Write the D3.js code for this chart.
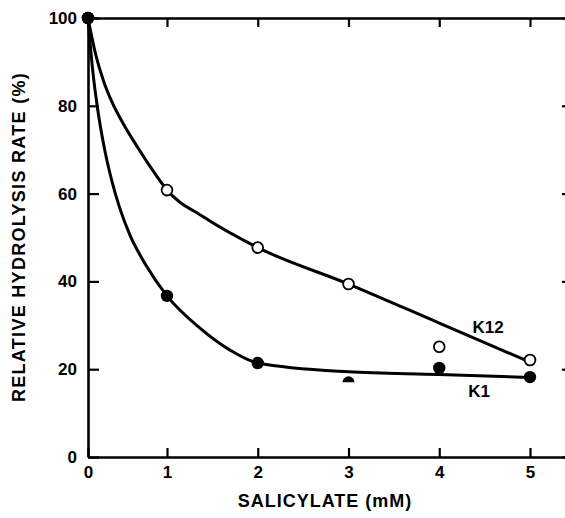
<!DOCTYPE html>
<html>
<head>
<meta charset="utf-8">
<script src="https://cdn.jsdelivr.net/npm/d3@7"></script>
<style>
  body { margin: 0; background: #fff; }
  svg { display: block; }
  text { font-family: "Liberation Sans", Arial, sans-serif; font-weight: bold; fill: #000; }
</style>
</head>
<body>
<div id="chart"></div>
<script>
// measured points
const concentrations = [0, 1, 2, 3, 4, 5];
const k12Rates = [100, 60.8, 47.7, 39.4, 25.1, 22.1];
const k1Rates = [100, 36.7, 21.4, 17, 20.3, 18.2];

// hand drawn fit curves
const k12CurveX = [0, 0.1, 0.2, 0.3, 0.45, 0.63, 0.8, 1, 1.4, 2, 3, 4, 5];
const k12CurveY = [100, 91.5, 85.5, 81, 75.8, 70.5, 65.8, 60.8, 54.7, 47.7, 39.4, 30.5, 21.6];
const k1CurveX = [0, 0.06, 0.12, 0.2, 0.3, 0.4, 0.53, 0.74, 1, 1.36, 1.69, 2, 3, 4, 5];
const k1CurveY = [100, 88, 79.5, 71, 63, 56.8, 50.6, 43.5, 36.7, 29.4, 24.4, 21.4, 19.4, 18.8, 18.1];

const xTicks = [0, 1, 2, 3, 4, 5];
const yTicks = [0, 20, 40, 60, 80, 100];
const seriesLabels = ["K12", "K1"];

const width = 565, height = 518;

const svg = d3.select("#chart")
    .append("svg")
    .attr("width", width)
    .attr("height", height);

// the scan's 0-1 gap is narrower than the others
const x = d3.scaleLinear()
    .domain([0, 1, 5, 5.45])
    .range([88, 167, 530, 571]);

const y = d3.scaleLinear()
    .domain([0, 100])
    .range([457, 18]);

// frame
const bottomAxis = svg.append("g")
    .attr("transform", `translate(0,${y(0)})`)
    .call(d3.axisBottom(x).tickValues(xTicks).tickSizeInner(-9).tickSizeOuter(0).tickPadding(9).tickFormat(d3.format("d")));

const leftAxis = svg.append("g")
    .attr("transform", `translate(${x(0)},0)`)
    .call(d3.axisLeft(y).tickValues(yTicks).tickSizeInner(-11).tickSizeOuter(0).tickPadding(11));

const topAxis = svg.append("g")
    .attr("transform", `translate(0,${y(100)})`)
    .call(d3.axisTop(x).tickValues(xTicks.slice(1)).tickSizeInner(-9).tickSizeOuter(0).tickFormat(""));

const rightAxis = svg.append("g")
    .attr("transform", `translate(${x(5.45)},0)`)
    .call(d3.axisRight(y).tickValues(yTicks).tickSizeInner(-9).tickSizeOuter(0).tickFormat(""));

[bottomAxis, leftAxis, topAxis, rightAxis].forEach(g => {
    g.select(".domain").attr("stroke", "#000").attr("stroke-width", 2.6);
    g.selectAll(".tick line").attr("stroke", "#000").attr("stroke-width", 2.2);
    g.selectAll(".tick text")
        .style("font-size", "17px")
        .style("font-family", "'Liberation Sans', Arial, sans-serif")
        .style("font-weight", "bold")
        .attr("fill", "#000");
});

// curves
const line = d3.line()
    .x(d => x(d[0]))
    .y(d => y(d[1]))
    .curve(d3.curveMonotoneX);

svg.append("path")
    .datum(d3.zip(k12CurveX, k12CurveY))
    .attr("d", line)
    .attr("fill", "none")
    .attr("stroke", "#000")
    .attr("stroke-width", 3);

svg.append("path")
    .datum(d3.zip(k1CurveX, k1CurveY))
    .attr("d", line)
    .attr("fill", "none")
    .attr("stroke", "#000")
    .attr("stroke-width", 3);

// K12 open circles
svg.selectAll(".k12")
    .data(d3.zip(concentrations, k12Rates))
    .enter()
    .append("circle")
    .attr("class", "k12")
    .attr("cx", d => x(d[0]))
    .attr("cy", d => y(d[1]))
    .attr("r", 5.4)
    .attr("fill", "#fff")
    .attr("stroke", "#000")
    .attr("stroke-width", 1.8);

// K1 filled circles (the point at 3 mM is only half printed)
const k1Points = d3.zip(concentrations, k1Rates);

svg.selectAll(".k1")
    .data(k1Points.filter(d => d[0] !== 3))
    .enter()
    .append("circle")
    .attr("class", "k1")
    .attr("cx", d => x(d[0]))
    .attr("cy", d => y(d[1]))
    .attr("r", 6.2)
    .attr("fill", "#000");

svg.selectAll(".k1half")
    .data(k1Points.filter(d => d[0] === 3))
    .enter()
    .append("path")
    .attr("class", "k1half")
    .attr("transform", d => `translate(${x(d[0])},${y(d[1])})`)
    .attr("d", d3.arc()({innerRadius: 0, outerRadius: 6, startAngle: -Math.PI / 2, endAngle: Math.PI / 2}))
    .attr("fill", "#000");

// series labels
svg.append("text")
    .attr("x", 488)
    .attr("y", 333)
    .attr("text-anchor", "middle")
    .style("font-size", "17px")
    .text(seriesLabels[0]);

svg.append("text")
    .attr("x", 479)
    .attr("y", 397)
    .attr("text-anchor", "middle")
    .style("font-size", "17px")
    .text(seriesLabels[1]);

// axis titles
svg.append("text")
    .attr("x", 325)
    .attr("y", 507)
    .attr("text-anchor", "middle")
    .style("font-size", "18px")
    .style("letter-spacing", "1px")
    .text("SALICYLATE (mM)");

svg.append("text")
    .attr("transform", "translate(25,237) rotate(-90)")
    .attr("text-anchor", "middle")
    .style("font-size", "18px")
    .style("letter-spacing", "1.3px")
    .text("RELATIVE HYDROLYSIS RATE (%)");
</script>
</body>
</html>
